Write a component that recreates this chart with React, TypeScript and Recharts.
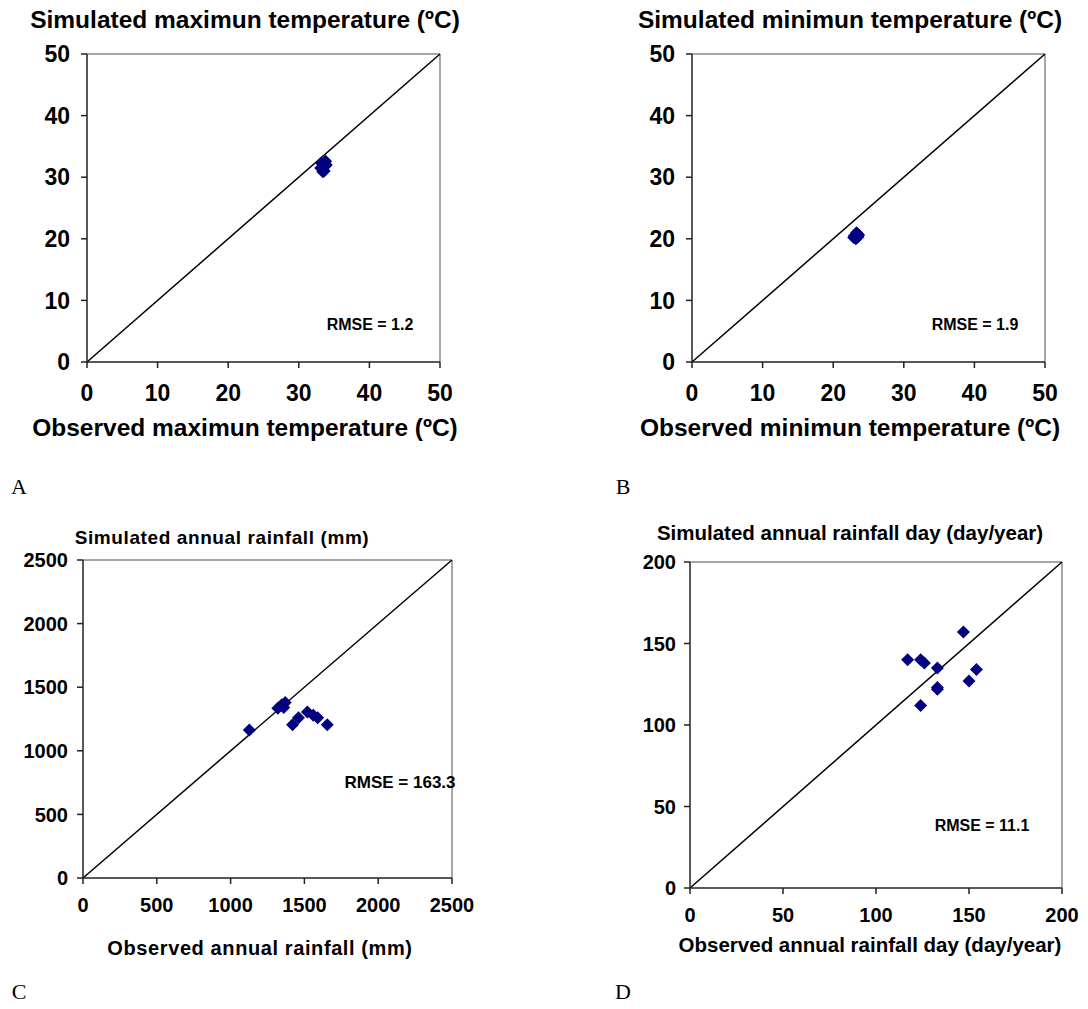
import React from "react";
import {
	ScatterChart,
	Scatter,
	XAxis,
	YAxis,
	ReferenceLine,
} from "recharts";

// panel A: observed vs simulated max temperature (ºC)
const maxTempObs = [33.2, 33.8, 33.5, 33.6, 33.1, 33.9, 33.4];
const maxTempSim = [32.3, 32.6, 31.8, 31.0, 31.5, 32.0, 30.9];
// panel B: min temperature (ºC)
const minTempObs = [23.0, 23.4, 23.2, 23.5, 22.9, 23.3, 23.6];
const minTempSim = [20.5, 20.8, 20.0, 20.3, 20.2, 21.0, 20.6];
// panel C: annual rainfall (mm)
const rainObs = [1127, 1320, 1360, 1370, 1345, 1420, 1460, 1520, 1560, 1590, 1655];
const rainSim = [1163, 1335, 1340, 1380, 1360, 1205, 1260, 1305, 1280, 1260, 1205];
// panel D: annual rainfall days (day/year)
const rainDayObs = [117, 124, 126, 133, 147, 154, 150, 133, 133, 124];
const rainDaySim = [140, 140, 138, 135, 157, 134, 127, 123, 122, 112];

const tempTicks = [0, 10, 20, 30, 40, 50];
const rainTicks = [0, 500, 1000, 1500, 2000, 2500];
const dayTicks = [0, 50, 100, 150, 200];

const FONT = "'Liberation Sans', Arial, sans-serif";
const NAVY = "#000080";

const toPoints = (xs: number[], ys: number[]) =>
	xs.map((x, i) => ({ x, y: ys[i] }));

const Diamond = (props: any) => {
	const { cx, cy } = props;
	if (cx == null || cy == null) return null;
	const w = 6.5;
	const h = 6.5;
	return (
		<polygon
			points={`${cx},${cy - h} ${cx + w},${cy} ${cx},${cy + h} ${cx - w},${cy}`}
			fill={NAVY}
		/>
	);
};

type PanelProps = {
	left: number;
	top: number;
	margin: { top: number; right: number; bottom: number; left: number };
	ticks: number[];
	data: { x: number; y: number }[];
	fontSize: number;
	xGap: number;
	yGap: number;
};

function Panel({ left, top, margin, ticks, data, fontSize, xGap, yGap }: PanelProps) {
	const max = ticks[ticks.length - 1];
	const tickStyle = {
		fill: "#000",
		fontSize,
		fontWeight: "bold",
		fontFamily: FONT,
	};
	return (
		<div style={{ position: "absolute", left, top }}>
			<ScatterChart width={480} height={450} margin={margin}>
				<XAxis
					type="number"
					dataKey="x"
					domain={[0, max]}
					ticks={ticks}
					height={60}
					stroke="#222"
					strokeWidth={1.5}
					tickSize={6}
					tickMargin={xGap}
					tick={tickStyle}
					interval={0}
				/>
				<YAxis
					type="number"
					dataKey="y"
					domain={[0, max]}
					ticks={ticks}
					width={60}
					stroke="#222"
					strokeWidth={1.5}
					tickSize={6}
					tickMargin={yGap}
					tick={tickStyle}
					interval={0}
				/>
				<ReferenceLine y={max} stroke="#888" strokeWidth={1.5} />
				<ReferenceLine x={max} stroke="#888" strokeWidth={1.5} />
				<ReferenceLine
					segment={[
						{ x: 0, y: 0 },
						{ x: max, y: max },
					]}
					stroke="#000"
					strokeWidth={1.5}
				/>
				<Scatter data={data} shape={<Diamond />} isAnimationActive={false} />
			</ScatterChart>
		</div>
	);
}

const Text = ({
	x,
	y,
	size,
	children,
	serif,
	spacing,
}: {
	x: number;
	y: number;
	size: number;
	children: React.ReactNode;
	serif?: boolean;
	spacing?: number;
}) => (
	<div
		style={{
			position: "absolute",
			left: x,
			top: y,
			transform: "translate(-50%, -50%)",
			whiteSpace: "nowrap",
			fontSize: size,
			fontWeight: serif ? "normal" : "bold",
			fontFamily: serif ? "'Liberation Serif', 'Times New Roman', serif" : FONT,
			letterSpacing: spacing ?? 0,
			color: "#000",
		}}
	>
		{children}
	</div>
);

export default function App() {
	return (
		<div
			style={{
				position: "absolute",
				left: 0,
				top: 0,
				width: 1088,
				height: 1009,
				background: "#fff",
			}}
		>
			<Panel
				left={0}
				top={0}
				margin={{ top: 54, right: 40, left: 27, bottom: 28 }}
				ticks={tempTicks}
				data={toPoints(maxTempObs, maxTempSim)}
				fontSize={23}
				xGap={17}
				yGap={11}
			/>
			<Panel
				left={605}
				top={0}
				margin={{ top: 54, right: 40, left: 27, bottom: 28 }}
				ticks={tempTicks}
				data={toPoints(minTempObs, minTempSim)}
				fontSize={23}
				xGap={17}
				yGap={11}
			/>
			<Panel
				left={0}
				top={500}
				margin={{ top: 60, right: 28, left: 23, bottom: 12 }}
				ticks={rainTicks}
				data={toPoints(rainObs, rainSim)}
				fontSize={20}
				xGap={14}
				yGap={9}
			/>
			<Panel
				left={605}
				top={500}
				margin={{ top: 62, right: 23, left: 25, bottom: 2 }}
				ticks={dayTicks}
				data={toPoints(rainDayObs, rainDaySim)}
				fontSize={20}
				xGap={14}
				yGap={8}
			/>

			<Text x={245} y={20} size={24.5}>Simulated maximun temperature (ºC)</Text>
			<Text x={245} y={428} size={24.5}>Observed maximun temperature (ºC)</Text>
			<Text x={850} y={20} size={24.5}>Simulated minimun temperature (ºC)</Text>
			<Text x={850} y={428} size={24.5}>Observed minimun temperature (ºC)</Text>
			<Text x={222} y={538} size={19} spacing={0.6}>Simulated annual rainfall (mm)</Text>
			<Text x={260} y={948} size={20} spacing={0.6}>Observed annual rainfall (mm)</Text>
			<Text x={850} y={533} size={20.5}>Simulated annual rainfall day (day/year)</Text>
			<Text x={870} y={945} size={20.5}>Observed annual rainfall day (day/year)</Text>

			<Text x={370} y={325} size={16}>RMSE = 1.2</Text>
			<Text x={975} y={325} size={16}>RMSE = 1.9</Text>
			<Text x={400} y={783} size={17}>RMSE = 163.3</Text>
			<Text x={982} y={826} size={16}>RMSE = 11.1</Text>

			<Text x={19} y={487} size={22} serif>A</Text>
			<Text x={623} y={487} size={22} serif>B</Text>
			<Text x={19} y={992} size={22} serif>C</Text>
			<Text x={623} y={992} size={22} serif>D</Text>
		</div>
	);
}
